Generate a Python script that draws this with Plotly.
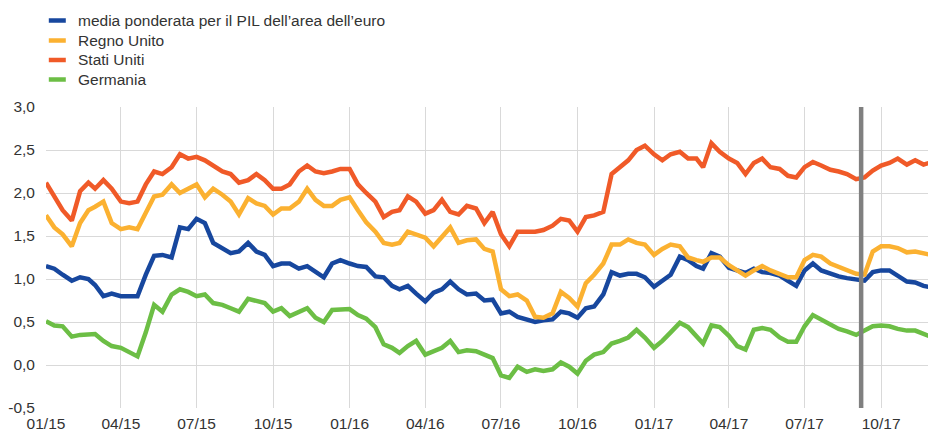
import plotly.graph_objects as go

# ---- dates: 1st, 11th, 21st of each month (Jan 2015 - Dec 2017) ----
def make_dates():
    out = []
    for y in (2015, 2016, 2017):
        for m in range(1, 13):
            if y == 2017 and m == 12:
                break
            for d in (1, 11, 21):
                out.append(f"{y}-{m:02d}-{d:02d}")
    out += ["2017-12-01", "2017-12-05"]
    return out

dates = make_dates()

euro_area = [
    1.15, 1.12, 1.05, 0.98, 1.02, 1.00, 0.93, 0.80, 0.83, 0.80, 0.80, 0.80,
    1.05, 1.27, 1.28, 1.25, 1.60, 1.58, 1.70, 1.65, 1.42, 1.35, 1.30, 1.32,
    1.42, 1.32, 1.28, 1.15, 1.18, 1.18, 1.12, 1.15, 1.08, 1.02, 1.18, 1.22,
    1.18, 1.15, 1.14, 1.03, 1.02, 0.92, 0.88, 0.92, 0.83, 0.74, 0.84, 0.88,
    0.97, 0.88, 0.82, 0.83, 0.75, 0.76, 0.60, 0.62, 0.56, 0.53, 0.50, 0.52,
    0.53, 0.62, 0.60, 0.55, 0.66, 0.68, 0.82, 1.08, 1.04, 1.06, 1.06, 1.02,
    0.91, 0.98, 1.05, 1.26, 1.22, 1.15, 1.12, 1.30, 1.26, 1.13, 1.10, 1.07,
    1.12, 1.08, 1.07, 1.04, 0.98, 0.92, 1.10, 1.18, 1.10, 1.06, 1.03, 1.01,
    0.99, 0.98, 1.08, 1.10, 1.10, 1.04, 0.97, 0.96, 0.92, 0.90, 0.87,
]

uk = [
    1.74, 1.60, 1.52, 1.38, 1.65, 1.80, 1.84, 1.90, 1.65, 1.58, 1.60, 1.58,
    1.77, 1.96, 1.98, 2.10, 2.00, 2.05, 2.10, 1.95, 2.05, 1.98, 1.90, 1.75,
    1.94, 1.88, 1.85, 1.75, 1.82, 1.82, 1.90, 2.05, 1.92, 1.85, 1.85, 1.92,
    1.95, 1.80, 1.66, 1.55, 1.42, 1.40, 1.42, 1.55, 1.52, 1.48, 1.38, 1.50,
    1.60, 1.42, 1.45, 1.46, 1.35, 1.32, 0.88, 0.80, 0.82, 0.75, 0.56, 0.55,
    0.60, 0.85, 0.78, 0.68, 0.95, 1.05, 1.18, 1.40, 1.40, 1.46, 1.42, 1.40,
    1.28, 1.35, 1.40, 1.38, 1.25, 1.22, 1.20, 1.25, 1.25, 1.16, 1.10, 1.04,
    1.10, 1.15, 1.10, 1.06, 1.02, 1.02, 1.22, 1.28, 1.26, 1.18, 1.14, 1.10,
    1.06, 1.05, 1.32, 1.38, 1.38, 1.36, 1.31, 1.32, 1.30, 1.28, 1.27,
]

us = [
    2.12, 1.95, 1.80, 1.68, 2.02, 2.12, 2.05, 2.15, 2.05, 1.90, 1.88, 1.90,
    2.10, 2.25, 2.22, 2.30, 2.45, 2.40, 2.42, 2.38, 2.32, 2.25, 2.22, 2.12,
    2.15, 2.22, 2.15, 2.05, 2.05, 2.10, 2.25, 2.32, 2.25, 2.23, 2.25, 2.28,
    2.28, 2.10, 2.00, 1.90, 1.72, 1.78, 1.80, 1.96, 1.90, 1.76, 1.80, 1.92,
    1.78, 1.75, 1.85, 1.82, 1.65, 1.78, 1.52, 1.38, 1.55, 1.55, 1.55, 1.57,
    1.62, 1.70, 1.68, 1.55, 1.72, 1.74, 1.78, 2.22, 2.30, 2.38, 2.50, 2.55,
    2.45, 2.38, 2.45, 2.48, 2.40, 2.40, 2.30, 2.58, 2.48, 2.40, 2.35, 2.22,
    2.35, 2.40, 2.30, 2.28, 2.20, 2.18, 2.30, 2.36, 2.32, 2.27, 2.25, 2.22,
    2.16, 2.18, 2.26, 2.32, 2.35, 2.40, 2.33, 2.38, 2.33, 2.36, 2.35,
]

germany = [
    0.51, 0.46, 0.45, 0.33, 0.35, 0.36, 0.36, 0.28, 0.22, 0.20, 0.15, 0.10,
    0.38, 0.70, 0.62, 0.82, 0.88, 0.85, 0.80, 0.82, 0.72, 0.70, 0.66, 0.62,
    0.77, 0.74, 0.72, 0.62, 0.66, 0.57, 0.62, 0.66, 0.55, 0.50, 0.64, 0.64,
    0.65, 0.58, 0.54, 0.44, 0.24, 0.20, 0.14, 0.22, 0.28, 0.12, 0.16, 0.20,
    0.28, 0.15, 0.17, 0.16, 0.12, 0.08, -0.12, -0.15, -0.02, -0.08, -0.05, -0.07,
    -0.05, 0.03, -0.02, -0.10, 0.05, 0.12, 0.15, 0.25, 0.28, 0.32, 0.41, 0.32,
    0.20, 0.28, 0.38, 0.49, 0.44, 0.33, 0.25, 0.46, 0.44, 0.34, 0.22, 0.18,
    0.41, 0.43, 0.41, 0.32, 0.27, 0.27, 0.45, 0.58, 0.53, 0.48, 0.42, 0.39,
    0.35, 0.40, 0.45, 0.46, 0.45, 0.42, 0.40, 0.40, 0.36, 0.33, 0.31,
]

series_names = [
    "media ponderata per il PIL dell\u2019area dell\u2019euro",
    "Regno Unito",
    "Stati Uniti",
    "Germania",
]
series_values = [euro_area, uk, us, germany]
series_colors = ["#17479E", "#FBB131", "#F05A28", "#6CBE45"]

x_tick_vals = [
    "2015-01-01", "2015-04-01", "2015-07-01", "2015-10-01",
    "2016-01-01", "2016-04-01", "2016-07-01", "2016-10-01",
    "2017-01-01", "2017-04-01", "2017-07-01", "2017-10-01",
]
x_tick_text = ["01/15", "04/15", "07/15", "10/15", "01/16", "04/16",
               "07/16", "10/16", "01/17", "04/17", "07/17", "10/17"]
y_tick_vals = [-0.5, 0.0, 0.5, 1.0, 1.5, 2.0, 2.5, 3.0]
y_tick_text = ["-0,5", "0,0", "0,5", "1,0", "1,5", "2,0", "2,5", "3,0"]
event_date = "2017-09-07"

FONT = "Liberation Sans, Arial, sans-serif"
TEXT_COLOR = "#333333"
FSIZE = 15.5

# page offset (default body margin of the html page)
OFF = 8
W, H = 936 - OFF, 430 - OFF
# plot area in figure pixels
L, R, T, B = 45.7 - OFF, 936.0 - OFF, 107.0 - OFF, 408.0 - OFF

fig = go.Figure()
for name, vals, col in zip(series_names, series_values, series_colors):
    fig.add_trace(go.Scatter(
        x=dates, y=vals, mode="lines", name=name,
        line=dict(color=col, width=4.5), showlegend=False,
    ))

# vertical event line
fig.add_shape(type="line", xref="x", yref="y",
              x0=event_date, x1=event_date, y0=-0.52, y1=3.0,
              line=dict(color="#808080", width=4.5), layer="above")

def px_to_paper_x(px):
    return (px - OFF - L) / (R - L)
def px_to_paper_y(py):
    return (B - (py - OFF)) / (B - T)

# manual legend (top-left), positions in screen pixels
legend_rows = [20.5, 40.5, 60.0, 79.5]
for name, col, py in zip(series_names, series_colors, legend_rows):
    fig.add_shape(type="line", xref="paper", yref="paper",
                  x0=px_to_paper_x(48.5), x1=px_to_paper_x(65.5),
                  y0=px_to_paper_y(py), y1=px_to_paper_y(py),
                  line=dict(color=col, width=4.5))
    fig.add_annotation(xref="paper", yref="paper",
                       x=px_to_paper_x(75.5), y=px_to_paper_y(py),
                       text=name, showarrow=False,
                       xanchor="left", yanchor="middle",
                       font=dict(family=FONT, size=FSIZE, color=TEXT_COLOR))

fig.update_layout(
    width=W, height=H,
    margin=dict(l=L, r=W - R, t=T, b=H - B, pad=0),
    paper_bgcolor="white", plot_bgcolor="white",
    showlegend=False,
    font=dict(family=FONT, size=FSIZE, color=TEXT_COLOR),
)
fig.update_xaxes(
    type="date", range=["2015-01-01", "2017-12-06"],
    tickvals=x_tick_vals, ticktext=x_tick_text,
    showgrid=True, gridcolor="#D9D9D9", gridwidth=1,
    showline=False, zeroline=False, ticks="",
    ticklabelstandoff=4,
    tickfont=dict(family=FONT, size=FSIZE, color=TEXT_COLOR),
    automargin=False,
)
fig.update_yaxes(
    range=[-0.5, 3.0], tickvals=y_tick_vals, ticktext=y_tick_text,
    showgrid=True, gridcolor="#D9D9D9", gridwidth=1,
    showline=False, zeroline=False, ticks="",
    ticklabelstandoff=10,
    tickfont=dict(family=FONT, size=FSIZE, color=TEXT_COLOR),
    automargin=False,
)

fig.write_html("out.html")
